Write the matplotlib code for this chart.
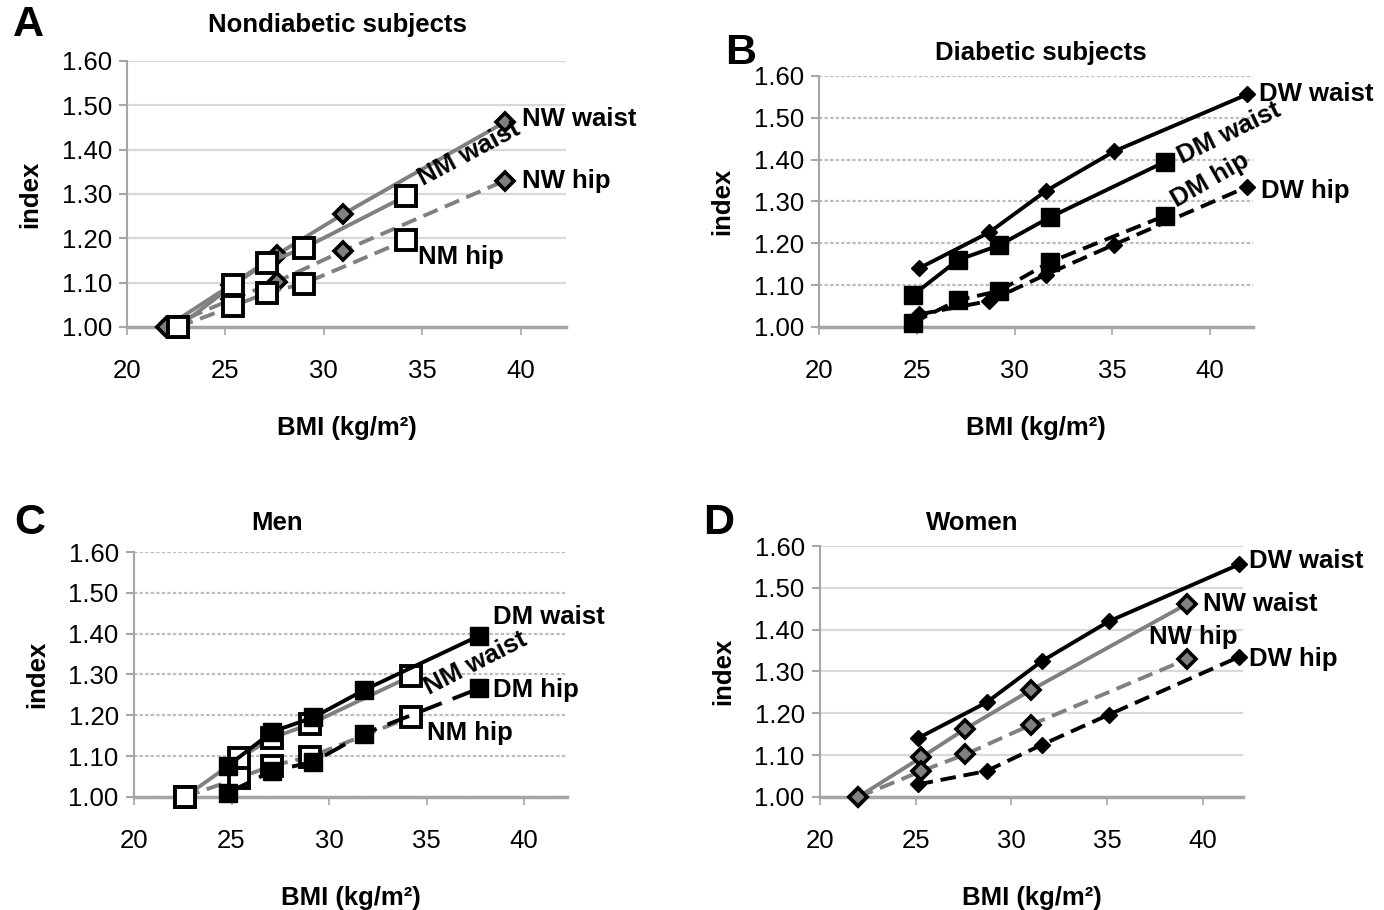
import matplotlib.pyplot as plt

plt.rcParams['font.family'] = ['Liberation Sans', 'DejaVu Sans']

# BMI (x) and index (y)
nw_bmi = [22.0, 25.3, 27.6, 31.0, 39.2]
nw_waist = [1.00, 1.095, 1.163, 1.255, 1.462]
nw_hip = [1.00, 1.062, 1.102, 1.172, 1.330]

nm_bmi = [22.6, 25.4, 27.1, 29.0, 34.2]
nm_waist = [1.00, 1.095, 1.145, 1.178, 1.296]
nm_hip = [1.00, 1.047, 1.077, 1.098, 1.196]

dw_bmi = [25.1, 28.7, 31.6, 35.1, 41.9]
dw_waist = [1.140, 1.226, 1.325, 1.420, 1.556]
dw_hip = [1.030, 1.062, 1.125, 1.197, 1.335]

dm_bmi = [24.8, 27.1, 29.2, 31.8, 37.7]
dm_waist = [1.076, 1.160, 1.195, 1.262, 1.395]
dm_hip = [1.010, 1.064, 1.086, 1.155, 1.266]

x_ticks = [20, 25, 30, 35, 40]
y_ticks = [1.00, 1.10, 1.20, 1.30, 1.40, 1.50, 1.60]

GRAY = '#808080'
AX_GRAY = '#a6a6a6'
LW = 2.8


def nw(ax):
    kw = dict(marker='D', ms=9.5, mfc=GRAY, mec='black', mew=2.6, lw=LW, color=GRAY, clip_on=False, zorder=4)
    ax.plot(nw_bmi, nw_waist, ls='-', **kw)
    ax.plot(nw_bmi, nw_hip, ls=(0, (4, 2)), **kw)


def nm(ax):
    kw = dict(marker='s', ms=14, mfc='white', mec='black', mew=2.8, lw=LW, color=GRAY, clip_on=False, zorder=5)
    ax.plot(nm_bmi, nm_waist, ls='-', **kw)
    ax.plot(nm_bmi, nm_hip, ls=(0, (4, 2)), **kw)


def dw(ax):
    kw = dict(marker='D', ms=8.5, mfc='black', mec='black', lw=LW, color='black', clip_on=False, zorder=4)
    ax.plot(dw_bmi, dw_waist, ls='-', **kw)
    ax.plot(dw_bmi, dw_hip, ls=(0, (4, 2)), **kw)


def dm(ax, dash=(4, 2)):
    kw = dict(marker='s', ms=13.5, mfc='black', mec='black', lw=LW, color='black', clip_on=False, zorder=5)
    ax.plot(dm_bmi, dm_waist, ls='-', **kw)
    ax.plot(dm_bmi, dm_hip, ls=(0, dash), **kw)


def style(ax, letter, title, xmax, dotted, lx, ly, tx):
    ax.set_xlim(20, xmax)
    ax.set_ylim(1.0, 1.6)
    ax.set_xticks(x_ticks)
    ax.set_yticks(y_ticks)
    ax.set_yticklabels([f'{v:.2f}' for v in y_ticks])
    for s in ['top', 'right']:
        ax.spines[s].set_visible(False)
    ax.spines['left'].set_color(AX_GRAY)
    ax.spines['left'].set_linewidth(1.5)
    ax.spines['bottom'].set_color(AX_GRAY)
    ax.spines['bottom'].set_linewidth(2.5)
    ax.tick_params(axis='x', colors=AX_GRAY, labelcolor='black', labelsize=18.5, length=6, width=1.2, pad=17)
    ax.tick_params(axis='y', colors=AX_GRAY, labelcolor='black', labelsize=18.5, length=6, width=1.5, pad=5)
    if dotted:
        ax.yaxis.grid(True, color='#bdbdbd', lw=1.6, ls=(0, (1.5, 1)))
    else:
        ax.yaxis.grid(True, color='#d9d9d9', lw=1.6)
    ax.set_axisbelow(True)
    ax.set_xlabel('BMI (kg/m²)', fontsize=18.5, fontweight='bold', labelpad=24)
    ax.set_ylabel('index', fontsize=18.5, fontweight='bold', labelpad=14)
    ax.text(tx, ly, title, transform=ax.transAxes, fontsize=18.5, fontweight='bold', ha='center', va='center')
    ax.text(lx, ly, letter, transform=ax.transAxes, fontsize=31, fontweight='bold', ha='center', va='center')


fig = plt.figure(figsize=(13.84, 9.1), dpi=100)
axA = fig.add_axes([0.0918, 0.6407, 0.317, 0.2923])
axB = fig.add_axes([0.5918, 0.6407, 0.3136, 0.2758])
axC = fig.add_axes([0.0968, 0.1242, 0.3129, 0.2692])
axD = fig.add_axes([0.5925, 0.1242, 0.3056, 0.2758])

lab = dict(fontsize=18.5, fontweight='bold', va='center', zorder=6)

# A: nondiabetic
nw(axA)
nm(axA)
style(axA, 'A', 'Nondiabetic subjects', 42.3, False, -0.225, 1.135, 0.48)
axA.text(40.1, 1.47, 'NW waist', ha='left', **lab)
axA.text(40.1, 1.33, 'NW hip', ha='left', **lab)
axA.text(37.4, 1.39, 'NM waist', ha='center', rotation=28, **lab)
axA.text(34.8, 1.158, 'NM hip', ha='left', **lab)

# B: diabetic
dw(axB)
dm(axB)
style(axB, 'B', 'Diabetic subjects', 42.2, True, -0.18, 1.09, 0.51)
axB.text(42.5, 1.557, 'DW waist', ha='left', **lab)
axB.text(42.6, 1.325, 'DW hip', ha='left', **lab)
axB.text(41.0, 1.462, 'DM waist', ha='center', rotation=26, **lab)
axB.text(40.0, 1.352, 'DM hip', ha='center', rotation=30, **lab)

# C: men
nm(axC)
dm(axC, dash=(6, 3))
style(axC, 'C', 'Men', 42.2, True, -0.24, 1.12, 0.33)
axC.text(38.4, 1.441, 'DM waist', ha='left', **lab)
axC.text(38.4, 1.262, 'DM hip', ha='left', **lab)
axC.text(37.5, 1.326, 'NM waist', ha='center', rotation=27, **lab)
axC.text(35.0, 1.157, 'NM hip', ha='left', **lab)

# D: women
nw(axD)
dw(axD)
style(axD, 'D', 'Women', 42.1, False, -0.24, 1.09, 0.36)
axD.text(42.4, 1.564, 'DW waist', ha='left', **lab)
axD.text(40.0, 1.461, 'NW waist', ha='left', **lab)
axD.text(37.2, 1.383, 'NW hip', ha='left', **lab)
axD.text(42.4, 1.33, 'DW hip', ha='left', **lab)

fig.savefig('out.png', dpi=100, facecolor='white')
